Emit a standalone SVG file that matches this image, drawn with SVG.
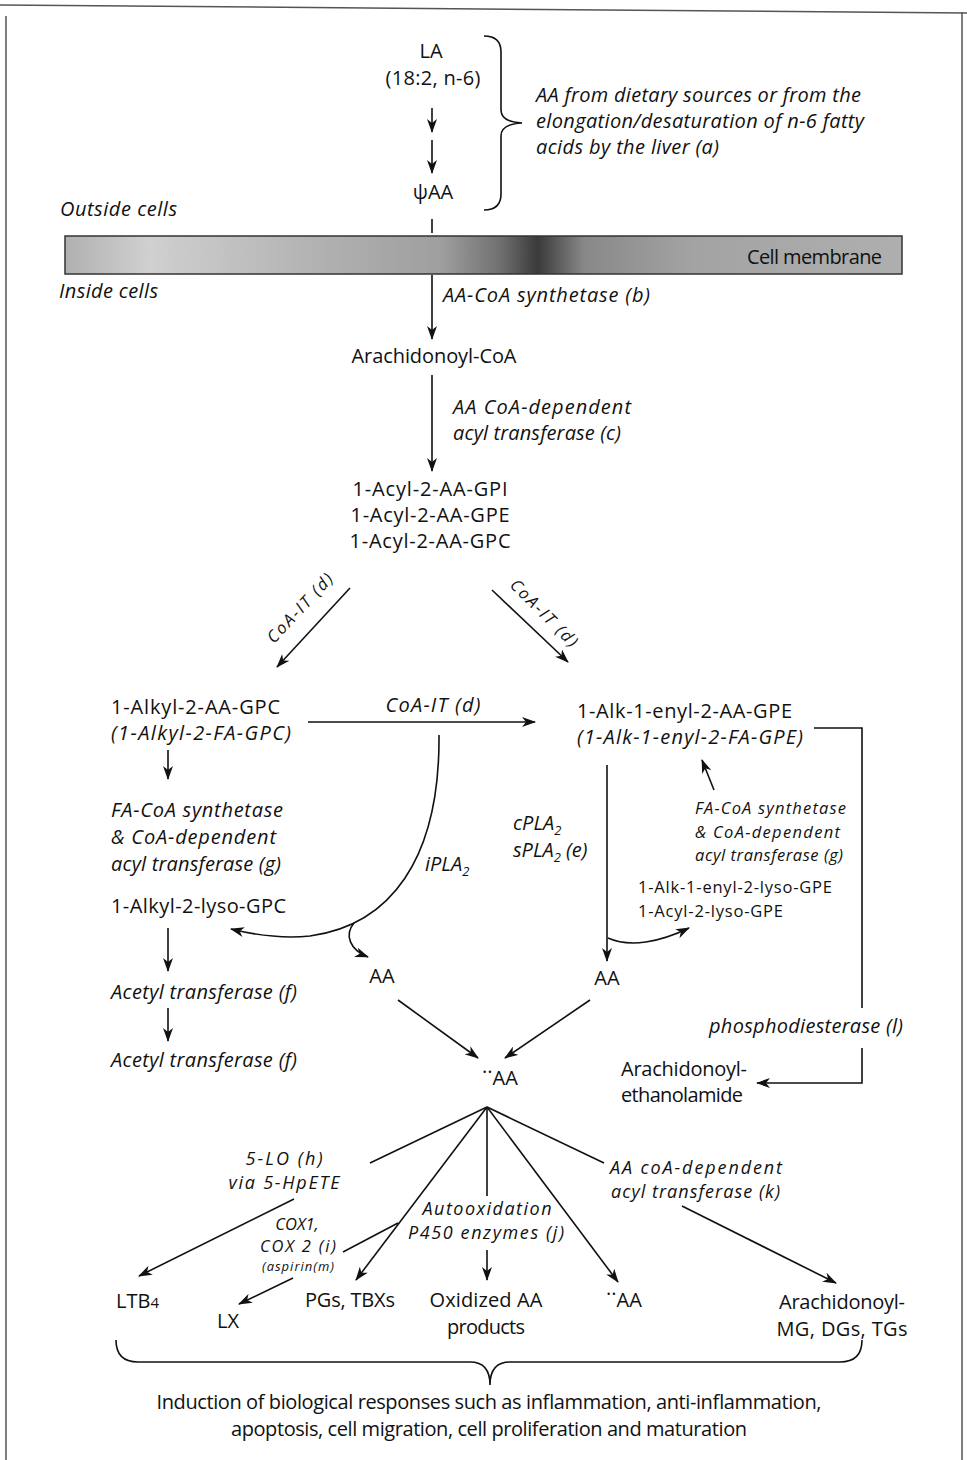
<svg xmlns="http://www.w3.org/2000/svg" width="967" height="1460" viewBox="0 0 967 1460">
<style>
text{font-family:"Open Sans","Noto Sans","Liberation Sans",sans-serif;fill:#111;}
.n{font-size:20px;}
.i{font-size:20px;font-style:italic;}
.it{font-size:18px;font-style:italic;}
.s{font-size:16.5px;}
.si{font-size:16.5px;font-style:italic;}
.xs{font-size:13px;font-style:italic;}
.m{text-anchor:middle;}
.e{text-anchor:end;}
.ln{fill:none;stroke:#111;stroke-width:1.6;}
.ar{fill:none;stroke:#111;stroke-width:1.6;marker-end:url(#ah);}
.frame{fill:none;stroke:#555;stroke-width:1.5;}
</style>
<defs>
<marker id="ah" viewBox="0 0 14 10" refX="13" refY="5" markerWidth="14" markerHeight="10" markerUnits="userSpaceOnUse" orient="auto">
<path d="M0,0 L14,5 L0,10 L4,5 z" fill="#111"/>
</marker>
<linearGradient id="mem" x1="0" y1="0" x2="1" y2="0">
<stop offset="0" stop-color="#b0b0b0"/>
<stop offset="0.1" stop-color="#d0d0d0"/>
<stop offset="0.3" stop-color="#b2b2b2"/>
<stop offset="0.45" stop-color="#9e9e9e"/>
<stop offset="0.52" stop-color="#707070"/>
<stop offset="0.565" stop-color="#3a3a3a"/>
<stop offset="0.62" stop-color="#888888"/>
<stop offset="0.75" stop-color="#a3a3a3"/>
<stop offset="1" stop-color="#afafaf"/>
</linearGradient>
</defs>

<g id="frame">
<path class="frame" d="M0,5 L967,13"/>
<path class="frame" d="M6,16 L6,1460"/>
<path class="frame" d="M962,12 L962,1460"/>
</g>

<g id="membrane">
<rect x="65" y="236" width="837" height="38" fill="url(#mem)" stroke="#333" stroke-width="1.5"/>
<text class="n e" x="882" y="264" fill="#222" textLength="135" lengthAdjust="spacing">Cell membrane</text>
</g>

<g id="region-labels">
<text class="i" x="60" y="216" textLength="117" lengthAdjust="spacing">Outside cells</text>
<text class="i" x="59" y="298" textLength="99" lengthAdjust="spacing">Inside cells</text>
</g>

<g id="connectors">
<line class="ar" x1="432" y1="108" x2="432" y2="132"/>
<line class="ar" x1="432" y1="140" x2="432" y2="173"/>
<line class="ln" x1="432" y1="219" x2="432" y2="233"/>
<line class="ar" x1="432" y1="275" x2="432" y2="339"/>
<line class="ar" x1="432" y1="375" x2="432" y2="471"/>
<line class="ar" x1="350" y1="588" x2="277" y2="667"/>
<line class="ar" x1="492" y1="590" x2="568" y2="662"/>
<line class="ar" x1="308" y1="722" x2="535" y2="722"/>
<polyline class="ln" points="814,728 862,728 862,1008"/>
<polyline class="ar" points="862,1048 862,1083 757,1083"/>
<line class="ar" x1="168" y1="750" x2="168" y2="779"/>
<line class="ar" x1="168" y1="928" x2="168" y2="971"/>
<line class="ar" x1="168" y1="1008" x2="168" y2="1041"/>
<path class="ar" d="M439,735 C440,860 390,925 310,936 C280,939 255,935 231,929"/>
<path class="ar" d="M354,923 C344,935 350,950 368,957"/>
<line class="ar" x1="607" y1="765" x2="607" y2="961"/>
<path class="ar" d="M608,938 C630,948 660,942 689,928"/>
<line class="ar" x1="714" y1="790" x2="702" y2="760"/>
<line class="ar" x1="398" y1="1000" x2="478" y2="1058"/>
<line class="ar" x1="590" y1="1000" x2="505" y2="1058"/>
<line class="ln" x1="487" y1="1107" x2="370" y2="1163"/>
<line class="ar" x1="294" y1="1199" x2="139" y2="1276"/>
<line class="ar" x1="487" y1="1107" x2="356" y2="1280"/>
<line class="ln" x1="398" y1="1223" x2="343" y2="1252"/>
<line class="ar" x1="293" y1="1278" x2="239" y2="1304"/>
<line class="ln" x1="487" y1="1107" x2="487" y2="1196"/>
<line class="ar" x1="487" y1="1250" x2="487" y2="1280"/>
<line class="ar" x1="487" y1="1107" x2="618" y2="1282"/>
<line class="ln" x1="487" y1="1107" x2="604" y2="1163"/>
<line class="ar" x1="682" y1="1206" x2="836" y2="1283"/>
<path class="ln" d="M484,36 Q501,36 501,52 L501,110 Q501,122 522,123 Q501,124 501,136 L501,194 Q501,210 484,210"/>
<path class="ln" d="M116,1340 Q116,1362 138,1362 L470,1362 Q490,1362 490,1385 Q490,1362 510,1362 L840,1362 Q862,1362 862,1340"/>
</g>

<g id="edge-labels">
<text class="i" x="443" y="302" textLength="207" lengthAdjust="spacing">AA-CoA synthetase (b)</text>
<text class="i" x="453" y="414" textLength="178" lengthAdjust="spacing">AA CoA-dependent</text>
<text class="i" x="453" y="440" textLength="168" lengthAdjust="spacing">acyl transferase (c)</text>
<text class="si m" transform="translate(304,612) rotate(-47)" textLength="88" lengthAdjust="spacing">CoA-IT (d)</text>
<text class="si m" transform="translate(540,617) rotate(45)" textLength="88" lengthAdjust="spacing">CoA-IT (d)</text>
<text class="i m" x="433" y="712" textLength="95" lengthAdjust="spacing">CoA-IT (d)</text>
<text class="i" x="425" y="871">iPLA<tspan font-size="13" dy="5">2</tspan></text>
<text class="i" x="513" y="830">cPLA<tspan font-size="13" dy="5">2</tspan></text>
<text class="i" x="513" y="857">sPLA<tspan font-size="13" dy="5">2</tspan><tspan dy="-5"> (e)</tspan></text>
<text class="si" x="695" y="814" textLength="151" lengthAdjust="spacing">FA-CoA synthetase</text>
<text class="si" x="695" y="838" textLength="145" lengthAdjust="spacing">&amp; CoA-dependent</text>
<text class="si" x="695" y="861" textLength="148" lengthAdjust="spacing">acyl transferase (g)</text>
<text class="i m" x="806" y="1033" textLength="194" lengthAdjust="spacing">phosphodiesterase (l)</text>
<text class="it m" x="284" y="1165" textLength="77" lengthAdjust="spacing">5-LO (h)</text>
<text class="it m" x="284" y="1189" textLength="111" lengthAdjust="spacing">via 5-HpETE</text>
<text class="si m" x="297" y="1230">COX1,</text>
<text class="si m" x="298" y="1252" textLength="76" lengthAdjust="spacing">COX 2 (i)</text>
<text class="xs m" x="298" y="1271" textLength="72" lengthAdjust="spacing">(aspirin(m)</text>
<text class="it m" x="487" y="1215" textLength="129" lengthAdjust="spacing">Autooxidation</text>
<text class="it m" x="486" y="1239" textLength="156" lengthAdjust="spacing">P450 enzymes (j)</text>
<text class="it" x="610" y="1174" textLength="172" lengthAdjust="spacing">AA coA-dependent</text>
<text class="it" x="611" y="1198" textLength="169" lengthAdjust="spacing">acyl transferase (k)</text>
<text class="i" x="536" y="102" textLength="325" lengthAdjust="spacing">AA from dietary sources or from the</text>
<text class="i" x="536" y="128" textLength="328" lengthAdjust="spacing">elongation/desaturation of n-6 fatty</text>
<text class="i" x="536" y="154" textLength="183" lengthAdjust="spacing">acids by the liver (a)</text>
</g>

<g id="node-la"><text class="n m" x="431" y="58">LA</text><text class="n m" x="433" y="85" textLength="95" lengthAdjust="spacing">(18:2, n-6)</text></g>
<g id="node-psiaa"><text class="n m" x="433" y="199">ψAA</text></g>
<g id="node-arachidonoyl-coa"><text class="n m" x="434" y="363" textLength="165" lengthAdjust="spacing">Arachidonoyl-CoA</text></g>
<g id="node-acyl-aa"><text class="n m" x="430" y="496" textLength="155" lengthAdjust="spacing">1-Acyl-2-AA-GPI</text><text class="n m" x="430" y="522" textLength="159" lengthAdjust="spacing">1-Acyl-2-AA-GPE</text><text class="n m" x="430" y="548" textLength="161" lengthAdjust="spacing">1-Acyl-2-AA-GPC</text></g>
<g id="node-alkyl-aa-gpc"><text class="n" x="111" y="714" textLength="169" lengthAdjust="spacing">1-Alkyl-2-AA-GPC</text><text class="i" x="111" y="740" textLength="180" lengthAdjust="spacing">(1-Alkyl-2-FA-GPC)</text></g>
<g id="node-alkenyl-aa-gpe"><text class="n" x="577" y="718" textLength="215" lengthAdjust="spacing">1-Alk-1-enyl-2-AA-GPE</text><text class="i" x="577" y="744" textLength="226" lengthAdjust="spacing">(1-Alk-1-enyl-2-FA-GPE)</text></g>
<g id="node-fa-coa-left"><text class="i" x="111" y="817" textLength="172" lengthAdjust="spacing">FA-CoA synthetase</text><text class="i" x="111" y="844" textLength="165" lengthAdjust="spacing">&amp; CoA-dependent</text><text class="i" x="111" y="871" textLength="170" lengthAdjust="spacing">acyl transferase (g)</text></g>
<g id="node-alkyl-lyso"><text class="n" x="111" y="913" textLength="175" lengthAdjust="spacing">1-Alkyl-2-lyso-GPC</text></g>
<g id="node-lyso-gpe"><text class="s" x="638" y="893" textLength="194" lengthAdjust="spacing">1-Alk-1-enyl-2-lyso-GPE</text><text class="s" x="638" y="917" textLength="145" lengthAdjust="spacing">1-Acyl-2-lyso-GPE</text></g>
<g id="node-acetyl1"><text class="i" x="111" y="999" textLength="186" lengthAdjust="spacing">Acetyl transferase (f)</text></g>
<g id="node-acetyl2"><text class="i" x="111" y="1067" textLength="186" lengthAdjust="spacing">Acetyl transferase (f)</text></g>
<g id="node-aa-left"><text class="n m" x="382" y="983">AA</text></g>
<g id="node-aa-right"><text class="n m" x="607" y="985">AA</text></g>
<g id="node-aa-radical"><text class="n m" x="500" y="1085"><tspan dy="-6">··</tspan><tspan dy="6">AA</tspan></text></g>
<g id="node-ethanolamide"><text class="n" x="621" y="1076" textLength="126" lengthAdjust="spacing">Arachidonoyl-</text><text class="n" x="621" y="1102" textLength="122" lengthAdjust="spacing">ethanolamide</text></g>
<g id="node-ltb4"><text class="n" x="116" y="1308">LTB<tspan font-size="15">4</tspan></text></g>
<g id="node-lx"><text class="n m" x="228" y="1328">LX</text></g>
<g id="node-pgs"><text class="n m" x="350" y="1307" textLength="90" lengthAdjust="spacing">PGs, TBXs</text></g>
<g id="node-oxidized"><text class="n m" x="486" y="1307" textLength="113" lengthAdjust="spacing">Oxidized AA</text><text class="n m" x="486" y="1334" textLength="78" lengthAdjust="spacing">products</text></g>
<g id="node-aa-radical2"><text class="n m" x="624" y="1307"><tspan dy="-6">··</tspan><tspan dy="6">AA</tspan></text></g>
<g id="node-mg"><text class="n m" x="842" y="1309" textLength="126" lengthAdjust="spacing">Arachidonoyl-</text><text class="n m" x="842" y="1336" textLength="131" lengthAdjust="spacing">MG, DGs, TGs</text></g>
<g id="node-responses"><text class="n m" x="489" y="1409" textLength="665" lengthAdjust="spacing">Induction of biological responses such as inflammation, anti-inflammation,</text><text class="n m" x="489" y="1436" textLength="516" lengthAdjust="spacing">apoptosis, cell migration, cell proliferation and maturation</text></g>
</svg>
